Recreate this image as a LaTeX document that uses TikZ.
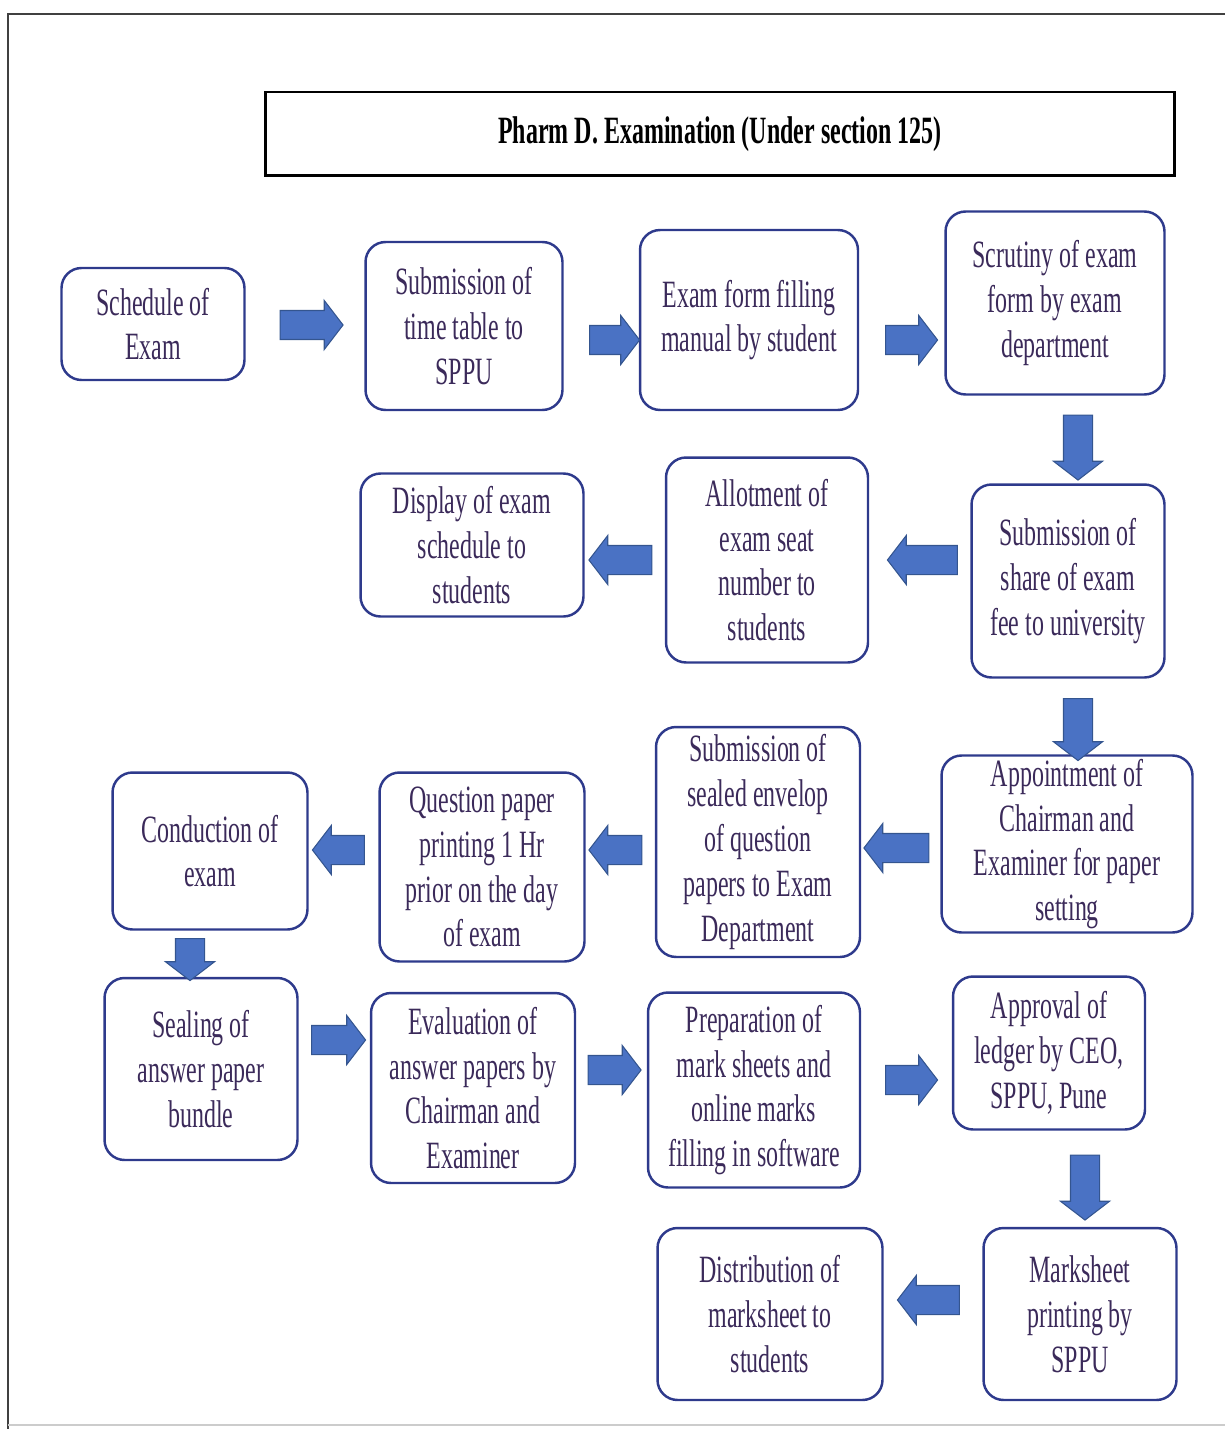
\documentclass[tikz,border=0pt]{standalone}
\usepackage{fontspec}
\setmainfont{Liberation Serif}[FakeStretch=0.62]
\usetikzlibrary{shapes.arrows}

\definecolor{boxblue}{HTML}{2E3A8C}
\definecolor{arrowblue}{HTML}{4A72C4}
\definecolor{arrowline}{HTML}{34558F}
\definecolor{textpurple}{HTML}{3B2A5A}

\begin{document}
\begin{tikzpicture}
[x=0.02cm, y=-0.02cm,
stepbox/.style={draw=boxblue, line width=1.4pt, rounded corners=0.4cm, align=center,
  text=textpurple, font=\fontsize{22}{25.5}\selectfont, inner sep=2pt},
blockarrow/.style={single arrow, draw=arrowline, fill=arrowblue, line width=0.6pt,
  single arrow head extend=0.2cm, single arrow tip angle=105,
  inner xsep=0pt, inner ysep=0.28cm, minimum height=1.2cm},
leftarrow/.style={blockarrow, rotate=180},
downarrow/.style={blockarrow, rotate=-90}
]
  \useasboundingbox (0,0) rectangle (1225,1429);
  % page frame
  \draw[line width=0.8pt, black!75] (8,1429) -- (8,14) -- (1225,14);
  \draw[line width=0.8pt, black!20] (8,1425) -- (1225,1425);

  \node[draw, line width=1.7pt, minimum width=18.2cm, minimum height=1.68cm,
        font=\fontsize{22}{25}\selectfont\bfseries] (title) at (720,134)
        {Pharm D. Examination (Under section 125)};

  % row 1
  \node[stepbox, minimum width=3.66cm, minimum height=2.24cm] (sched) at (153,324) {Schedule of\\Exam};
  \node[stepbox, minimum width=3.94cm, minimum height=3.36cm] (ttable) at (464,326) {Submission of\\time table to\\SPPU};
  \node[stepbox, minimum width=4.36cm, minimum height=3.6cm] (form) at (749,320) {Exam form filling\\manual by student};
  \node[stepbox, minimum width=4.38cm, minimum height=3.66cm] (scrut) at (1055,303) {Scrutiny of exam\\form by exam\\department};

  % row 2
  \node[stepbox, minimum width=3.86cm, minimum height=3.86cm] (fee) at (1068,581) {Submission of\\share of exam\\fee to university};
  \node[stepbox, minimum width=4.04cm, minimum height=4.1cm] (seat) at (767,560) {Allotment of\\exam seat\\number to\\students};
  \node[stepbox, minimum width=4.46cm, minimum height=2.86cm] (disp) at (472,545) {Display of exam\\schedule to\\students};

  % row 3
  \node[stepbox, minimum width=5.02cm, minimum height=3.44cm] (appt) at (1067,844) {Appointment of\\Chairman and\\Examiner for paper\\setting};
  \node[stepbox, minimum width=4.08cm, minimum height=4.6cm] (seal) at (758,842) {Submission of\\sealed envelop\\of question\\papers to Exam\\Department};
  \node[stepbox, minimum width=4.1cm, minimum height=3.78cm] (qp) at (482,867) {Question paper\\printing 1 Hr\\prior on the day\\of exam};
  \node[stepbox, minimum width=3.9cm, minimum height=3.14cm] (cond) at (210,851) {Conduction of\\exam};

  % row 4
  \node[stepbox, minimum width=3.86cm, minimum height=3.64cm] (bund) at (201,1069) {Sealing of\\answer paper\\bundle};
  \node[stepbox, minimum width=4.08cm, minimum height=3.8cm] (eval) at (473,1088) {Evaluation of\\answer papers by\\Chairman and\\Examiner};
  \node[stepbox, minimum width=4.24cm, minimum height=3.9cm] (prep) at (754,1090) {Preparation of\\mark sheets and\\online marks\\filling in software};
  \node[stepbox, minimum width=3.84cm, minimum height=3.06cm] (ledg) at (1049,1053) {Approval of\\ledger by CEO,\\SPPU, Pune};

  % row 5
  \node[stepbox, minimum width=3.86cm, minimum height=3.44cm] (print) at (1080,1314) {Marksheet\\printing by\\SPPU};
  \node[stepbox, minimum width=4.5cm, minimum height=3.44cm] (dist) at (770,1314) {Distribution of\\marksheet to\\students};

  % block arrows
  \node[blockarrow, minimum height=1.26cm] (a1) at (306,325) {};
  \node[blockarrow, minimum height=1.0cm] (a2) at (609,340) {};
  \node[blockarrow, minimum height=1.04cm] (a3) at (906,340) {};
  \node[downarrow, minimum height=1.3cm] (a4) at (1078,442) {};
  \node[leftarrow, minimum height=1.4cm] (a5) at (928,560) {};
  \node[leftarrow, minimum height=1.26cm] (a6) at (626,560) {};
  \node[downarrow, minimum height=1.24cm] (a7) at (1078,724) {};
  \node[leftarrow, minimum height=1.3cm] (a8) at (902,848) {};
  \node[leftarrow, minimum height=1.06cm] (a9) at (621,850) {};
  \node[leftarrow, minimum height=1.04cm] (a10) at (344,850) {};
  \node[downarrow, minimum height=0.84cm] (a11) at (190,954) {};
  \node[blockarrow, minimum height=1.08cm] (a12) at (333,1040) {};
  \node[blockarrow, minimum height=1.06cm] (a13) at (609,1070) {};
  \node[blockarrow, minimum height=1.04cm] (a14) at (906,1080) {};
  \node[downarrow, minimum height=1.3cm] (a15) at (1085,1182) {};
  \node[leftarrow, minimum height=1.24cm] (a16) at (934,1300) {};
\end{tikzpicture}
\end{document}
